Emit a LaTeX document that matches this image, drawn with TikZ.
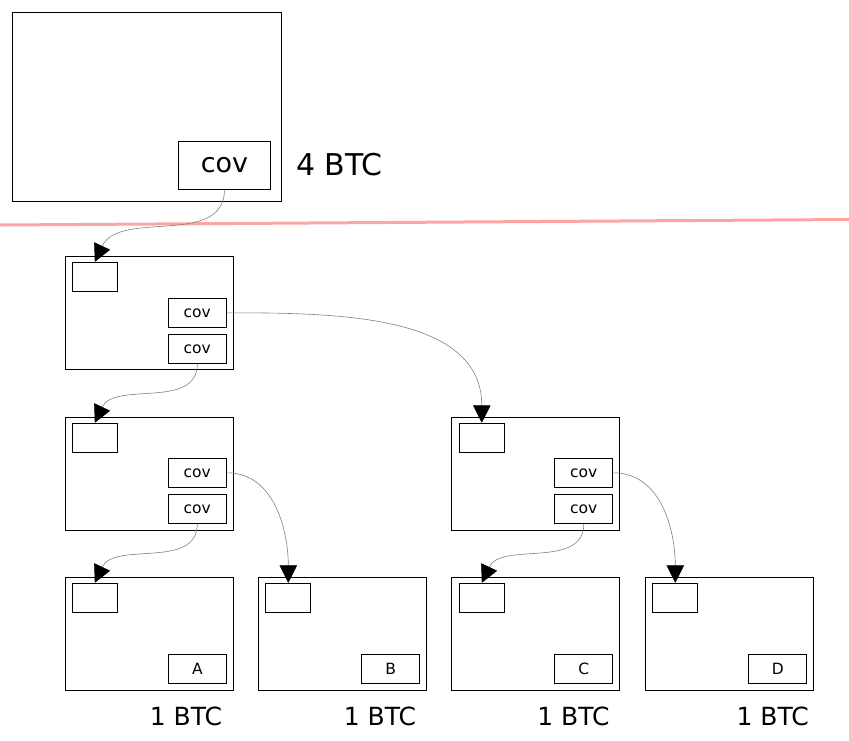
\documentclass[tikz,border=0pt]{standalone}
\usepackage{fontspec}
\setmainfont{DejaVu Sans}
\usepackage{xcolor}
\usepackage{tikz}
\usetikzlibrary{arrows.meta,positioning}

\definecolor{cutred}{HTML}{FFA3A3}
\tikzset{
    txbox/.style={draw, line width=1pt, inner sep=0pt, minimum width=168pt, minimum height=113pt},
    inbox/.style={draw, line width=0.9pt, inner sep=0pt, minimum width=45pt, minimum height=29pt},
    outbox/.style={draw, line width=0.9pt, inner sep=0pt, minimum width=58pt, minimum height=29pt, font=\fontsize{15.5}{17}\selectfont},
    amount/.style={inner sep=0pt, font=\fontsize{25}{28}\selectfont},
    spend/.style={draw=gray, line width=0.6pt, -{Triangle[length=17.5pt,width=17.5pt,color=black]}}
}

\begin{document}
\begin{tikzpicture}[x=1pt, y=-1pt]
    \useasboundingbox (0,0) rectangle (849,740);

    \node[draw, line width=1pt, minimum width=269pt, minimum height=189pt] (fund) at (146.5,106.5) {};
    \node[draw, line width=0.9pt, inner sep=0pt, minimum width=92pt, minimum height=47.5pt, font=\fontsize{27}{29}\selectfont] (fundcov) at (224.5,165.3) {cov};
    \node[anchor=west, inner sep=0pt, font=\fontsize{30}{32}\selectfont] (fundamt) at (296,164.5) {4 BTC};

    \coordinate (cutl) at (0,225);
    \coordinate (cutr) at (849,219.5);
    \draw[cutred, line width=3pt] (cutl) -- (cutr);

    \node[txbox] (t1) at (149,312.5) {};
    \node[inbox] (t1in) at (94.8,276.8) {};
    \node[outbox] (t1a) at (197.3,312.8) {cov};
    \node[outbox] (t1b) at (197.3,348.8) {cov};

    \node[txbox] (t2) at (149,473.5) {};
    \node[inbox] (t2in) at (94.8,437.8) {};
    \node[outbox] (t2a) at (197.3,472.8) {cov};
    \node[outbox] (t2b) at (197.3,508.8) {cov};

    \node[txbox] (t3) at (535.8,473.5) {};
    \node[inbox] (t3in) at (481.8,437.8) {};
    \node[outbox] (t3a) at (583.8,472.8) {cov};
    \node[outbox] (t3b) at (583.8,508.8) {cov};

    \node[txbox] (la) at (149,633.8) {};
    \node[inbox] (lain) at (94.8,597.8) {};
    \node[outbox] (laout) at (197.3,668.8) {A};
    \node[amount] (laamt) at (186,716) {1 BTC};

    \node[txbox] (lb) at (342.3,633.8) {};
    \node[inbox] (lbin) at (288.3,597.8) {};
    \node[outbox] (lbout) at (390.8,668.8) {B};
    \node[amount] (lbamt) at (380,716) {1 BTC};

    \node[txbox] (lc) at (535.8,633.8) {};
    \node[inbox] (lcin) at (481.8,597.8) {};
    \node[outbox] (lcout) at (583.8,668.8) {C};
    \node[amount] (lcamt) at (573.5,716) {1 BTC};

    \node[txbox] (ld) at (729.3,633.8) {};
    \node[inbox] (ldin) at (675.3,597.8) {};
    \node[outbox] (ldout) at (777.8,668.8) {D};
    \node[amount] (ldamt) at (772.8,716) {1 BTC};

    \draw[spend] (fundcov.south) to[out=-90, in=65] (t1in.north);
    \draw[spend] (t1a.east) to[out=0, in=90] (t3in.north);
    \draw[spend] (t1b.south) to[out=-90, in=65] (t2in.north);
    \draw[spend] (t2a.east) to[out=0, in=90] (lbin.north);
    \draw[spend] (t2b.south) to[out=-90, in=65] (lain.north);
    \draw[spend] (t3a.east) to[out=0, in=90] (ldin.north);
    \draw[spend] (t3b.south) to[out=-90, in=65] (lcin.north);
\end{tikzpicture}
\end{document}
